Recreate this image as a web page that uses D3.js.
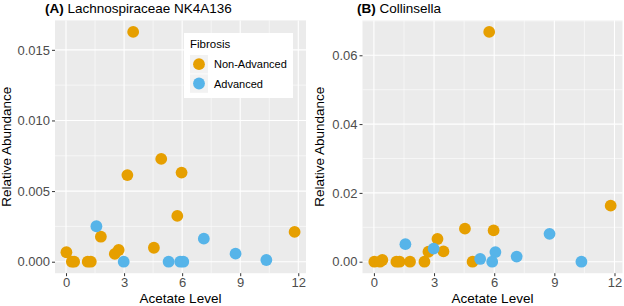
<!DOCTYPE html>
<html>
<head>
<meta charset="utf-8">
<script src="https://cdn.jsdelivr.net/npm/d3@7"></script>
<style>
  body { margin: 0; background: #fff; }
  svg { display: block; font-family: "Liberation Sans", Arial, sans-serif; }
</style>
</head>
<body>
<svg id="chart" width="624" height="306"></svg>
<script>
// acetate level of each sample, by fibrosis group
const nonAdvAcetate = [0.02, 0.3, 0.42, 1.12, 1.28, 1.8, 2.52, 2.72, 3.17, 3.47, 4.54, 4.92, 5.75, 5.97, 11.81];
const advAcetate = [1.57, 2.98, 5.3, 5.9, 6.06, 7.12, 8.76, 10.35];

// relative abundance, panel A (Lachnospiraceae NK4A136)
const nonAdvLachno = [0.00067, 0.0, 0.0, 0.0, 0.0, 0.00177, 0.00055, 0.00083, 0.00613, 0.01627, 0.00099, 0.00728, 0.00324, 0.00631, 0.00211];
const advLachno = [0.00251, 0.0, 0.0, 0.0, 0.0, 0.00163, 0.00057, 0.00012];

// relative abundance, panel B (Collinsella)
const nonAdvColl = [0.0, 0.0, 0.0005, 0.0, 0.0, 0.0, 0.0, 0.0029, 0.0066, 0.003, 0.0096, 0.0, 0.0668, 0.0091, 0.0163];
const advColl = [0.0051, 0.0038, 0.0008, 0.0, 0.0028, 0.0015, 0.0081, 0.0];

const xTicks = [0, 3, 6, 9, 12];
const yTicksA = [0, 0.005, 0.010, 0.015];
const yTicksB = [0, 0.02, 0.04, 0.06];

const groups = ["Non-Advanced", "Advanced"];
const colour = d3.scaleOrdinal().domain(groups).range(["#E69F00", "#56B4E9"]);

const svg = d3.select("#chart");
const panelTop = 20.4, panelBottom = 273.2;

// ggplot-style 5% expansion of the data range
function expanded(vals) {
  const [lo, hi] = d3.extent(vals);
  const pad = (hi - lo) * 0.05;
  return [lo - pad, hi + pad];
}

function rows(acet, ab, grp) {
  return acet.map((a, i) => ({ x: a, y: ab[i], group: grp }));
}

function yTicksMid(ticks) {
  const step = ticks[1] - ticks[0];
  return ticks.map(t => t + step / 2);
}

function drawPanel(o) {
  const pts = rows(nonAdvAcetate, o.nonAdv, groups[0]).concat(rows(advAcetate, o.adv, groups[1]));

  const x = d3.scaleLinear().domain(expanded(pts.map(d => d.x))).range([o.left, o.right]);
  const y = d3.scaleLinear().domain(expanded(pts.map(d => d.y))).range([panelBottom, panelTop]);

  const g = svg.append("g");

  // grey panel
  g.append("rect")
    .attr("x", o.left).attr("y", panelTop)
    .attr("width", o.right - o.left).attr("height", panelBottom - panelTop)
    .attr("fill", "#EBEBEB");

  // minor grid
  const xMinor = xTicks.slice(0, -1).map((t, i) => (t + xTicks[i + 1]) / 2);
  const yMinor = yTicksMid(o.yTicks);
  g.selectAll(".xminor").data(xMinor).enter()
    .append("line")
    .attr("x1", d => x(d)).attr("x2", d => x(d)).attr("y1", panelTop).attr("y2", panelBottom)
    .attr("stroke", "#fff").attr("stroke-width", 0.55);
  g.selectAll(".yminor").data(yMinor.filter(v => y(v) > panelTop)).enter()
    .append("line")
    .attr("x1", o.left).attr("x2", o.right).attr("y1", d => y(d)).attr("y2", d => y(d))
    .attr("stroke", "#fff").attr("stroke-width", 0.55);

  // major grid
  g.selectAll(".xmajor").data(xTicks).enter()
    .append("line")
    .attr("x1", d => x(d)).attr("x2", d => x(d)).attr("y1", panelTop).attr("y2", panelBottom)
    .attr("stroke", "#fff").attr("stroke-width", 1.1);
  g.selectAll(".ymajor").data(o.yTicks).enter()
    .append("line")
    .attr("x1", o.left).attr("x2", o.right).attr("y1", d => y(d)).attr("y2", d => y(d))
    .attr("stroke", "#fff").attr("stroke-width", 1.1);

  // points
  g.selectAll(".pt").data(pts).enter()
    .append("circle")
    .attr("cx", d => x(d.x))
    .attr("cy", d => y(d.y))
    .attr("r", 5.9)
    .attr("fill", d => colour(d.group));

  // axes
  const xAxis = g.append("g")
    .attr("transform", `translate(0,${panelBottom})`)
    .call(d3.axisBottom(x).tickValues(xTicks).tickSize(3).tickPadding(2).tickFormat(d3.format("d")));
  const yAxis = g.append("g")
    .attr("transform", `translate(${o.left},0)`)
    .call(d3.axisLeft(y).tickValues(o.yTicks).tickSize(3).tickPadding(2).tickFormat(d3.format(o.fmt)));
  [xAxis, yAxis].forEach(a => {
    a.select(".domain").remove();
    a.selectAll(".tick line").attr("stroke", "#333");
    a.selectAll(".tick text").attr("fill", "#4D4D4D").style("font-size", "13px")
      .style("font-family", "'Liberation Sans', Arial, sans-serif");
  });

  // axis titles
  g.append("text")
    .attr("x", (o.left + o.right) / 2).attr("y", 303)
    .attr("text-anchor", "middle")
    .style("font-size", "13.5px")
    .text("Acetate Level");
  g.append("text")
    .attr("transform", `translate(${o.ytitleX},${(panelTop + panelBottom) / 2}) rotate(-90)`)
    .attr("text-anchor", "middle")
    .style("font-size", "13.5px")
    .text("Relative Abundance");

  // panel title
  const t = g.append("text")
    .attr("x", o.titleX).attr("y", 13)
    .style("font-size", "13.5px");
  t.append("tspan").style("font-weight", "bold").text(o.tag);
  t.append("tspan").text(" " + o.title);
}

drawPanel({ left: 55, right: 306, nonAdv: nonAdvLachno, adv: advLachno, yTicks: yTicksA, fmt: ".3f",
  ytitleX: 11, titleX: 45, tag: "(A)", title: "Lachnospiraceae NK4A136" });
drawPanel({ left: 362.5, right: 622.5, nonAdv: nonAdvColl, adv: advColl, yTicks: yTicksB, fmt: ".2f",
  ytitleX: 324, titleX: 357, tag: "(B)", title: "Collinsella" });

// legend inside panel A
const leg = svg.append("g").attr("transform", "translate(184,33)");
leg.append("rect").attr("width", 109).attr("height", 65).attr("fill", "#fff");
leg.append("text").attr("x", 6).attr("y", 15).style("font-size", "11.5px").text("Fibrosis");
const keys = leg.selectAll(".key").data(groups).enter().append("g")
  .attr("transform", (d, i) => `translate(6,${22 + i * 19.3})`);
keys.append("rect").attr("width", 18).attr("height", 18.5).attr("fill", "#F2F2F2");
keys.append("circle").attr("cx", 9).attr("cy", 9.2).attr("r", 5.9).attr("fill", d => colour(d));
keys.append("text").attr("x", 24).attr("y", 13.3).style("font-size", "11px").text(d => d);
</script>
</body>
</html>
